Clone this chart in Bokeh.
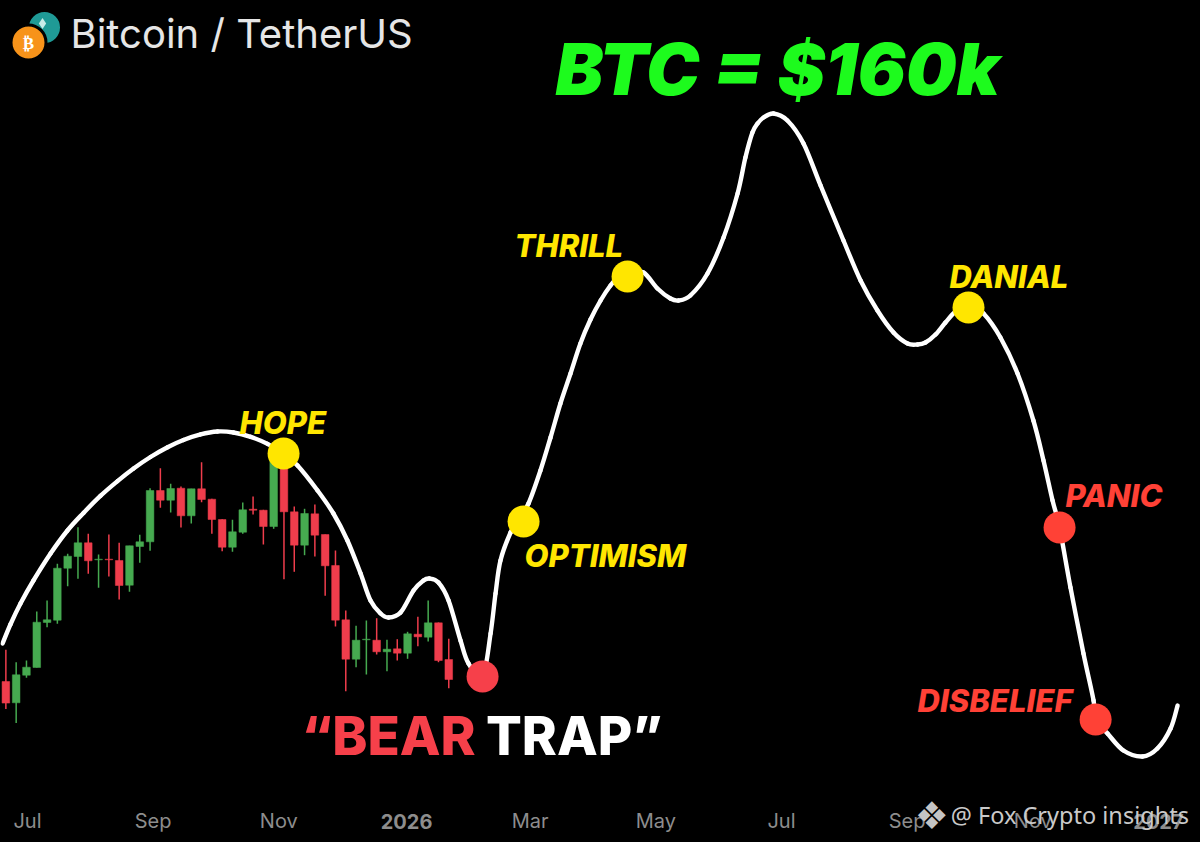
from bokeh.plotting import figure
from bokeh.models import Range1d, LinearAxis, FixedTicker, GlobalInlineStyleSheet
from bokeh.core.properties import value
from bokeh.embed import file_html
from bokeh.resources import INLINE

# ---- data: x is days since 1 Jul 2025, y is price in USD ----
candle_day = [-10.5, -5.5, -0.5, 4.5, 9.5, 14.5, 19.5, 24.5, 29.5, 34.5, 39.5, 44.5, 49.5, 54.5, 59.5,
              64.5, 69.5, 74.5, 79.5, 84.5, 89.5, 94.5, 99.5, 104.5, 109.5, 114.5, 119.5, 124.5, 129.5,
              134.5, 139.5, 144.5, 149.5, 154.5, 159.5, 164.5, 169.5, 174.5, 179.5, 184.5, 189.5, 194.5,
              199.5, 204.5]
candle_open = [104100, 101970, 104730, 105500, 110000, 110230, 115430, 116600, 117970, 116270, 116330, 116200,
               113730, 117600, 118070, 123200, 122230, 123430, 120670, 123370, 122330, 120300, 117530, 119030,
               121330, 121230, 119600, 126530, 121070, 117730, 120870, 118800, 115700, 110270, 106330, 108270,
               108230, 107070, 107370, 106930, 108830, 108530, 109970, 106300]
candle_high = [107270, 106030, 106200, 111100, 112200, 115870, 116870, 119530, 118870, 116800, 118800, 117970,
               117670, 118770, 123430, 125430, 123870, 123600, 123370, 126030, 122370, 120330, 120270, 122000,
               122600, 121270, 127200, 126530, 121600, 121370, 121800, 118800, 117200, 111200, 109670, 110200,
               110430, 108270, 108330, 109070, 110570, 112200, 110000, 108370]
candle_low = [101340, 99940, 104470, 105500, 109530, 109870, 113630, 114370, 114870, 113470, 114600, 112300,
              113070, 115970, 117170, 121470, 121000, 119500, 119900, 122030, 118870, 117130, 117070, 118870,
              120800, 117800, 119370, 114330, 115070, 116730, 116600, 112670, 109600, 103130, 105530, 104800,
              106800, 105130, 106200, 106370, 107630, 108100, 106030, 103430]
candle_close = [101940, 104770, 105530, 110030, 110270, 115430, 116630, 117970, 116170, 116330, 116270, 113700,
                117670, 118070, 123200, 122230, 123400, 120670, 123370, 122300, 120300, 117530, 119070, 121270,
                121230, 119600, 126530, 121070, 117730, 120900, 118730, 115670, 110230, 106330, 108230, 108330,
                107070, 107330, 106930, 108870, 108570, 109970, 106200, 104300]

curve_day = [-12.1, -8.3, -3.4, 2.9, 11.2, 19.4, 27.2, 35.4, 43.7, 51.5, 59.7, 68, 75.7, 84, 92.2, 100, 108.3,
             116.5, 124.3, 131.1,
             140.8, 148.5, 155.3, 161.7, 166.5, 171.4, 175.2, 181.1, 187.4, 192.2, 195.1, 199.5, 204.4, 210.2,
             214.1, 220.9, 224.8, 227.2, 229.6, 234.5, 238.8, 243.2, 249, 253.9, 258.7, 263.6, 268.4, 273.3,
             278.2, 283, 287,
             291.3, 299, 305.8, 312.1, 316, 321.8, 330.1, 337.9, 344.7, 348.5, 351.9, 354.4, 357.3, 362.1, 368.9,
             376.7, 385, 396.1, 404.4, 412.6, 420.4, 427.2, 432, 435.9, 440.8, 445.6, 450.5, 456.8, 464.1, 472.3,
             480.6, 488.3, 493.2, 497.6, 501, 506.3, 512.6, 517.5, 518.5, 524.3, 532, 541.3, 548.5, 554.9, 558.3]
curve_price = [107900, 109800, 111900, 114200, 116900, 119200, 120960, 122660, 124140, 125400, 126550, 127530,
               128250, 128810, 129100, 129000, 128570, 127860, 126900, 125700,
               123200, 120900, 118200, 114900, 112200, 110900, 110500, 111000, 113200,
               114200, 114400, 114000, 112200, 108200, 105900, 104600, 108900, 112900, 116200, 119000,
               120500, 121900, 125200, 128500, 131900, 134900, 137900, 140300, 142200, 143700, 144600,
               145100, 145000, 143400, 142400,
               142200, 142700, 144900, 148500, 152900, 156500, 159000, 159900, 160500, 160900, 160200, 157900, 153700,
               148200, 144200, 141200, 139000, 137900, 137800, 138000, 138800, 140000, 141100, 141900, 140900,
               138500, 134900, 130200, 126200, 122200, 119500, 113500, 106900, 102200, 100300, 98900, 97200, 96600,
               97400, 99400, 101700]

dot_day = [124.3, 240.8, 291.3, 456.8, 220.9, 501, 518.5]
dot_price = [126900, 120100, 144600, 141500, 104600, 119500, 100300]
dot_color = ["#ffe600", "#ffe600", "#ffe600", "#ffe600", "#f6404a", "#ff4136", "#ff4136"]

tick_day = [0, 61, 122, 184, 244, 305, 366, 427, 488, 549]
tick_label = ["Jul", "Sep", "Nov", "2026", "Mar", "May", "Jul", "Sep", "Nov", "2027"]
is_year = [False, False, False, True, False, False, False, False, False, True]

GREEN = "#46aa50"
RED = "#ef3d4c"
YEL = "#ffe600"
ORG = "#ff4136"

def dx(px):
    return (px - 27) / 2.06

def dy(py):
    return 172200 - 100 * py

p = figure(width=1200, height=842, frame_width=1200, frame_height=800, output_backend="svg", toolbar_location=None,
           x_range=Range1d(dx(0), dx(1200)), y_range=Range1d(dy(800), dy(0)),
           x_axis_location=None, y_axis_location=None,
           background_fill_color="#000000", border_fill_color="#000000",
           min_border=0, min_border_bottom=42, outline_line_color=None)
p.grid.visible = False
p.stylesheets = [GlobalInlineStyleSheet(css="html,body{margin:0;padding:0;background:#000;overflow:hidden}")]

def bare_axis(ticks, labs, font, size, style, color, standoff):
    ax = LinearAxis(ticker=FixedTicker(ticks=ticks), major_label_overrides=labs)
    ax.axis_line_color = None
    ax.major_tick_line_color = None
    ax.minor_tick_line_color = None
    ax.major_label_text_color = color
    ax.major_label_text_font = font
    ax.major_label_text_font_size = size
    ax.major_label_text_font_style = style
    ax.major_label_standoff = standoff
    p.add_layout(ax, "below")

def make_axis(flag, style, standoff):
    ticks = [d for d, y in zip(tick_day, is_year) if y == flag]
    labs = {d: t for d, t, y in zip(tick_day, tick_label, is_year) if y == flag}
    bare_axis(ticks, labs, "Inter", "20px", style, "#8d8d8d", standoff)

make_axis(True, "bold", 7)
make_axis(False, "normal", -29)
# the watermark lies over the axis strip, outside the frame
bare_axis([506], {506: "@ Fox Crypto insights"}, "Noto Sans", "23.5px", "normal", "#c9c9c9", -43)
bare_axis([439], {439: "\u2756"}, "DejaVu Sans", "38px", "normal", "#c4c4c4", -48)

# candles
colors = [GREEN if c >= o else RED for o, c in zip(candle_open, candle_close)]
p.segment(candle_day, candle_low, candle_day, candle_high, line_color=colors, line_width=1.5)
p.vbar(candle_day, width=3.7, bottom=[min(a, b) for a, b in zip(candle_open, candle_close)],
       top=[max(a, b) for a, b in zip(candle_open, candle_close)],
       fill_color=colors, line_color=colors, line_width=0.5)

# curve: the read points joined by smooth bezier spans
n = len(curve_day)
cx0, cy0, cx1, cy1 = [], [], [], []
for i in range(n - 1):
    a, b = max(i - 1, 0), min(i + 2, n - 1)
    cx0.append(curve_day[i] + (curve_day[i + 1] - curve_day[a]) / 6)
    cy0.append(curve_price[i] + (curve_price[i + 1] - curve_price[a]) / 6)
    cx1.append(curve_day[i + 1] - (curve_day[b] - curve_day[i]) / 6)
    cy1.append(curve_price[i + 1] - (curve_price[b] - curve_price[i]) / 6)
p.bezier(curve_day[:-1], curve_price[:-1], curve_day[1:], curve_price[1:], cx0, cy0, cx1, cy1,
         line_color="#ffffff", line_width=4.4, line_cap="round")

# dots
p.scatter(dot_day, dot_price, size=32, fill_color=dot_color, line_color=None)

def txt(s, px, py, size, color, font="Inter", style="bold italic", alpha=1.0):
    p.text([dx(px)], [dy(py - 0.37 * size)], text=[s], text_font=value(font), text_font_size=f"{size}px",
           text_font_style=style, text_color=color, text_alpha=alpha,
           text_align="left", text_baseline="alphabetic")

txt("BTC = $160k", 555, 95, 71.5, "#1dfb1d", font="Inter Black")
txt("HOPE", 239, 433, 31, YEL, font="Inter ExtraBold")
txt("THRILL", 514, 256, 31, YEL, font="Inter ExtraBold")
txt("DANIAL", 949, 287, 31, YEL, font="Inter ExtraBold")
txt("OPTIMISM", 524, 566, 31, YEL, font="Inter ExtraBold")
txt("PANIC", 1065, 506, 31, ORG, font="Inter ExtraBold")
txt("DISBELIEF", 917, 711, 31, ORG, font="Inter ExtraBold")
txt("\u201cBEAR", 301, 755, 53, "#f6404a", font="Inter ExtraBold", style="bold")
txt("TRAP\u201d", 485.5, 755, 53, "#ffffff", font="Inter ExtraBold", style="bold")
txt("Bitcoin / TetherUS", 70, 48, 40, "#e6e6e6", style="normal")

# pair logo
p.scatter([dx(44)], [dy(27)], size=31, fill_color="#1f9a96", line_color=None)
p.scatter([dx(42)], [dy(23)], size=11, marker="diamond", fill_color="#c9ece8", line_color=None)
p.scatter([dx(28)], [dy(42)], size=35, fill_color="#f7931a", line_color="#000000", line_width=3)
p.text([dx(28)], [dy(42)], text=["\u20bf"], text_font=value("DejaVu Sans"), text_font_size="17px",
       text_font_style="bold", text_color="#ffffff", text_align="center", text_baseline="middle")

open("out.html", "w").write(file_html(p, INLINE))
